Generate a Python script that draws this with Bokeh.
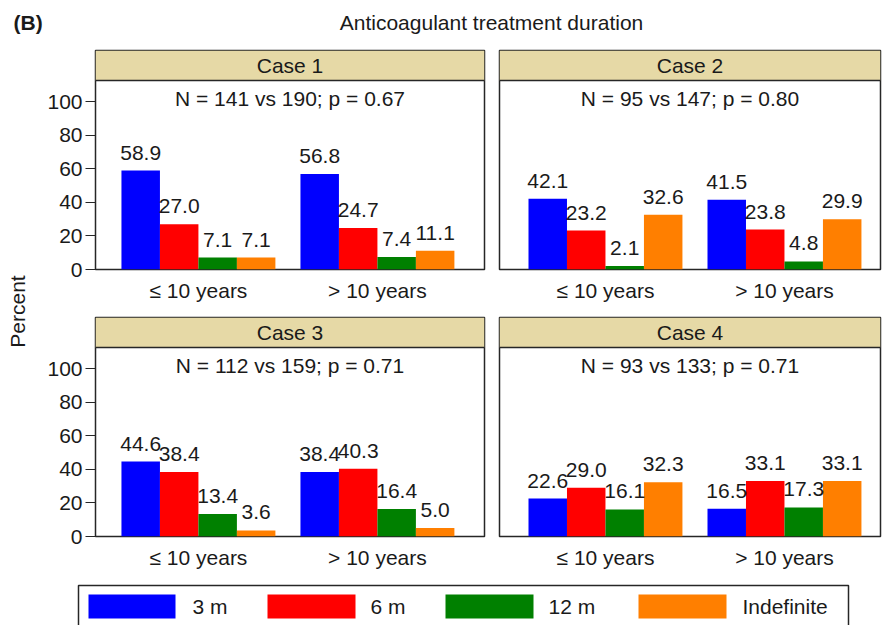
import math
from bokeh.plotting import figure
from bokeh.models import Range1d, FixedTicker, BoxAnnotation, Span, Label, ColumnDataSource
from bokeh.layouts import row, column
from bokeh.core.properties import value
from bokeh.embed import file_html
from bokeh.resources import INLINE

FONT = "Liberation Sans"
FS = "21px"
TXT = "#1a1a1a"
LINE = "#262626"
TAN = "#E6D9A6"

# ---------------- data ----------------
cases = ["Case 1", "Case 2", "Case 3", "Case 4"]
stats = ["N = 141 vs 190; p = 0.67", "N = 95 vs 147; p = 0.80",
         "N = 112 vs 159; p = 0.71", "N = 93 vs 133; p = 0.71"]
age_groups = ["\u2264 10 years", "> 10 years"]
durations = ["3 m", "6 m", "12 m", "Indefinite"]
colors = ["#0000FF", "#FF0000", "#008000", "#FF7F00"]
y_ticks = [0, 20, 40, 60, 80, 100]

case1_le = [58.9, 27.0, 7.1, 7.1]
case1_gt = [56.8, 24.7, 7.4, 11.1]
case2_le = [42.1, 23.2, 2.1, 32.6]
case2_gt = [41.5, 23.8, 4.8, 29.9]
case3_le = [44.6, 38.4, 13.4, 3.6]
case3_gt = [38.4, 40.3, 16.4, 5.0]
case4_le = [22.6, 29.0, 16.1, 32.3]
case4_gt = [16.5, 33.1, 17.3, 33.1]

panel_values = [(case1_le, case1_gt), (case2_le, case2_gt),
                (case3_le, case3_gt), (case4_le, case4_gt)]

# ---------------- layout constants ----------------
PX_PER_UNIT = 179.0
BW = 0.215
FRAME_H = 219
Y_MAX = 130.4
HEADER_Y = 112.5
STRIP_W = 32


def panel(i, left_side, top_pad):
    le, gt = panel_values[i]
    fw = 389 if left_side else 381
    x0 = -0.575 if left_side else -0.592
    x1 = x0 + fw / PX_PER_UNIT
    mbl = (95 - STRIP_W) if left_side else 8
    mbr = 7 if left_side else 2
    p = figure(width=mbl + fw + mbr, height=top_pad + FRAME_H + 39,
               x_range=Range1d(x0, x1), y_range=Range1d(0, Y_MAX),
               output_backend="svg", toolbar_location=None,
               y_axis_location="left" if left_side else None,
               min_border_left=mbl, min_border_right=mbr,
               min_border_top=top_pad, min_border_bottom=39,
               background_fill_color="white", border_fill_color="white")
    p.outline_line_color = LINE
    p.outline_line_width = 1.5
    p.grid.visible = False

    xs, tops, cols, labels = [], [], [], []
    for g, vals in enumerate([le, gt]):
        for k, v in enumerate(vals):
            xs.append(g + (k - 1.5) * BW)
            tops.append(v)
            cols.append(colors[k])
            labels.append(f"{v:.1f}")
    src = ColumnDataSource(dict(x=xs, top=tops, color=cols, label=labels))
    p.vbar(x="x", top="top", bottom=0, width=BW, fill_color="color",
           line_color=None, source=src)
    p.text(x="x", y="top", text="label", source=src, text_align="center",
           text_baseline="alphabetic", y_offset=-18,
           text_font=value(FONT), text_font_size=value(FS), text_color=TXT)

    # header strip
    p.add_layout(BoxAnnotation(bottom=HEADER_Y, fill_color=TAN, fill_alpha=1.0,
                               line_color=None))
    p.add_layout(Span(location=HEADER_Y, dimension="width", line_color=LINE,
                      line_width=1.5))
    xc = (x0 + x1) / 2
    p.add_layout(Label(x=xc, y=121.4, text=cases[i], text_align="center",
                       text_baseline="middle", text_font=FONT,
                       text_font_size=FS, text_color=TXT))
    p.add_layout(Label(x=xc, y=102, text=stats[i], text_align="center",
                       text_baseline="middle", text_font=FONT,
                       text_font_size=FS, text_color=TXT))

    # x axis
    xa = p.xaxis[0]
    xa.ticker = FixedTicker(ticks=[0, 1])
    xa.major_label_overrides = {0: age_groups[0], 1: age_groups[1]}
    xa.axis_line_color = None
    xa.major_tick_line_color = None
    xa.minor_tick_line_color = None
    xa.major_tick_out = 0
    xa.major_tick_in = 0
    xa.major_label_standoff = 9
    xa.major_label_text_font = FONT
    xa.major_label_text_font_size = FS
    xa.major_label_text_color = TXT

    if left_side:
        ya = p.yaxis[0]
        ya.ticker = FixedTicker(ticks=y_ticks)
        ya.axis_line_color = None
        ya.major_tick_line_color = LINE
        ya.major_tick_line_width = 1
        ya.major_tick_out = 10
        ya.major_tick_in = 0
        ya.minor_tick_line_color = None
        ya.major_label_standoff = 3
        ya.major_label_text_font = FONT
        ya.major_label_text_font_size = FS
        ya.major_label_text_color = TXT
    return p


def blank(w, h):
    f = figure(width=w, height=h, x_range=Range1d(0, w), y_range=Range1d(h, 0),
               output_backend="svg", toolbar_location=None,
               x_axis_location=None, y_axis_location=None,
               min_border=0, min_border_left=0, min_border_right=0,
               min_border_top=0, min_border_bottom=0,
               background_fill_color="white", border_fill_color="white")
    f.outline_line_color = None
    f.grid.visible = False
    return f


# title strip
tf = blank(882, 48)
tf.add_layout(Label(x=13, y=22, text="(B)", text_align="left",
                    text_baseline="middle", text_font=FONT,
                    text_font_style="bold", text_font_size=FS, text_color=TXT))
tf.add_layout(Label(x=491, y=22, text="Anticoagulant treatment duration",
                    text_align="center", text_baseline="middle",
                    text_font=FONT, text_font_size=FS, text_color=TXT))

# y label strip
pf = blank(STRIP_W, 527)
pf.add_layout(Label(x=17, y=263, text="Percent", angle=math.pi / 2,
                    text_align="center", text_baseline="middle",
                    text_font=FONT, text_font_size=FS, text_color=TXT))

p1 = panel(0, True, 2)
p2 = panel(1, False, 2)
p3 = panel(2, True, 9)
p4 = panel(3, False, 9)

# legend strip
lf = blank(882, 50)
lf.quad(left=[78], right=[848], top=[10], bottom=[90], fill_color=None,
        line_color=LINE, line_width=1.5)
sw_left = [88, 267, 445, 638]
sw_right = [175, 355, 533, 726]
lab_x = [192, 370, 548, 742]
lf.quad(left=sw_left, right=sw_right, top=[19] * 4, bottom=[43] * 4,
        fill_color=colors, line_color=None)
lf.text(x=lab_x, y=[31] * 4, text=durations, text_align="left",
        text_baseline="middle", text_font=value(FONT),
        text_font_size=value(FS), text_color=TXT)

layout = column(tf, row(pf, column(row(p1, p2), row(p3, p4))), lf)

open("out.html", "w").write(file_html(layout, INLINE))
